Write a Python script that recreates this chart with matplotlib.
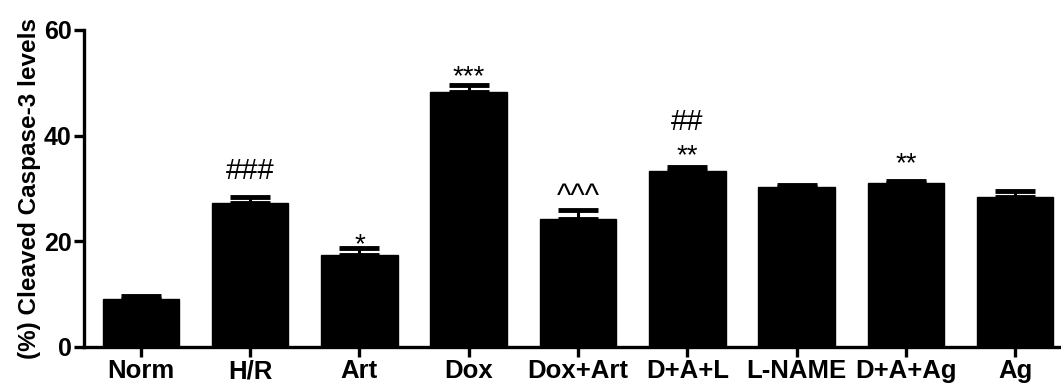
import matplotlib
matplotlib.use("Agg")
import matplotlib.pyplot as plt

categories = ["Norm", "H/R", "Art", "Dox", "Dox+Art", "D+A+L", "L-NAME", "D+A+Ag", "Ag"]
means = [9.1, 27.2, 17.4, 48.2, 24.3, 33.3, 30.2, 31.0, 28.3]
errors = [0.6, 1.1, 1.3, 1.3, 1.6, 0.8, 0.5, 0.5, 1.3]
# annotations: (category index, text, baseline y value, fontsize)
annotations = [
    (1, "###", 31.8, 21),
    (2, "*", 17.9, 20),
    (3, "***", 49.8, 20),
    (4, "^^^", 26.8, 22),
    (5, "##", 41.1, 21),
    (5, "**", 34.8, 20),
    (7, "**", 33.3, 20),
]

plt.rcParams['font.family'] = ['Liberation Sans', 'DejaVu Sans']

fig = plt.figure(figsize=(10.61, 3.89), dpi=100)
ax = fig.add_axes([0.0792, 0.108, 0.9208, 0.815])

x = list(range(len(categories)))
ax.bar(x, means, width=0.7, color='black', edgecolor='black', zorder=2)
ax.errorbar(x, means, yerr=[[0]*len(errors), errors], fmt='none', ecolor='black',
            elinewidth=2.2, capsize=14.5, capthick=3.5, zorder=3)

for i, txt, yb, fs in annotations:
    ax.text(i, yb, txt, ha='center', va='baseline', fontsize=fs, color='black')

ax.set_xlim(-0.52, 8.42)
ax.set_ylim(0, 60)
ax.set_yticks([0, 20, 40, 60])
ax.set_xticks(x)
ax.set_xticklabels(categories, fontsize=18.5, fontweight='bold')
for lab in ax.get_yticklabels():
    lab.set_fontsize(18)
    lab.set_fontweight('bold')
ax.set_ylabel("(%) Cleaved Caspase-3 levels", fontsize=17.5, fontweight='bold', labelpad=2)

for s in ['top', 'right']:
    ax.spines[s].set_visible(False)
for s in ['left', 'bottom']:
    ax.spines[s].set_linewidth(2.4)
ax.tick_params(axis='both', width=2.4, length=7, direction='out', pad=2)

fig.savefig("out.png", dpi=100)
